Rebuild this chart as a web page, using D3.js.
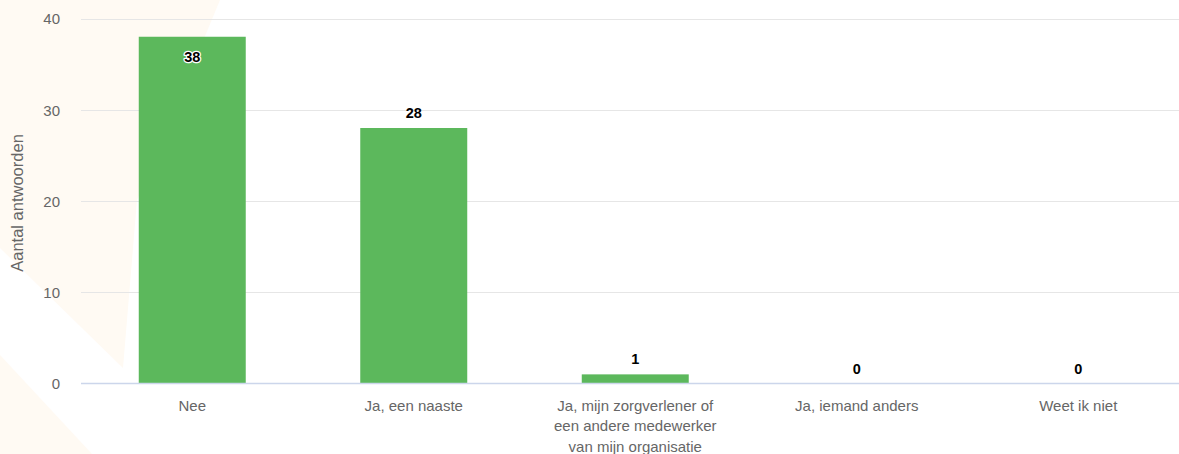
<!DOCTYPE html>
<html>
<head>
<meta charset="utf-8">
<script src="https://cdn.jsdelivr.net/npm/d3@7"></script>
<style>
  html, body { margin: 0; padding: 0; background: #ffffff; }
  svg { display: block; font-family: "Liberation Sans", Arial, sans-serif; }
</style>
</head>
<body>
<svg id="chart" width="1179" height="454"></svg>
<script>
const categories = ["Nee", "Ja, een naaste", "Ja, mijn zorgverlener of een andere medewerker van mijn organisatie", "Ja, iemand anders", "Weet ik niet"];
const values = [38, 28, 1, 0, 0];
const yTicks = [0, 10, 20, 30, 40];
const yTitle = "Aantal antwoorden";

const W = 1179, H = 454;
const plot = { left: 81.5, right: 1189, top: 18.5, bottom: 383.5 };
const svg = d3.select("#chart");

// faint background watermark shapes
const bg = svg.append("g");
bg.append("path").attr("d", "M0,0 L220,0 L137,200 L123,368 L0,248 Z").attr("fill", "#fffaf3");
bg.append("path").attr("d", "M0,355 L92,454 L0,454 Z").attr("fill", "#fffaf3");

const x = d3.scaleBand().domain(categories).range([plot.left, plot.right]).padding(0);
const y = d3.scaleLinear().domain([0, 40]).range([plot.bottom, plot.top]);
const barW = x.bandwidth() * 0.483;

// gridlines
svg.append("g").selectAll("line").data(yTicks.filter(d => d !== 0)).join("line")
  .attr("x1", 81).attr("x2", W)
  .attr("y1", d => Math.round(y(d)) + 0.5).attr("y2", d => Math.round(y(d)) + 0.5)
  .attr("stroke", "#e6e6e6").attr("stroke-width", 1);

// y axis labels
const yAxis = d3.axisLeft(y).tickValues(yTicks).tickSize(0).tickPadding(0);
const yg = svg.append("g").attr("transform", "translate(60,0)").call(yAxis);
yg.select(".domain").remove();
yg.selectAll("text").attr("font-size", 15).attr("fill", "#666666")
  .attr("font-family", "Liberation Sans, Arial, sans-serif").attr("dy", "0.35em");

// y title
svg.append("text")
  .attr("transform", `translate(23,${(plot.top + plot.bottom) / 2 + 2}) rotate(-90)`)
  .attr("text-anchor", "middle").attr("font-size", 16.5).attr("fill", "#666666")
  .text(yTitle);

// bars
svg.append("g").selectAll("rect").data(values).join("rect")
  .attr("x", (d, i) => x(categories[i]) + (x.bandwidth() - barW) / 2)
  .attr("width", barW)
  .attr("y", d => y(d))
  .attr("height", d => y(0) - y(d))
  .attr("fill", "#5cb85c");

// x axis line
svg.append("line").attr("x1", 81).attr("x2", W)
  .attr("y1", plot.bottom).attr("y2", plot.bottom)
  .attr("stroke", "#ccd6eb").attr("stroke-width", 1.5);

// x labels
const xAxis = d3.axisBottom(x).tickSize(0).tickPadding(0);
const xg = svg.append("g").attr("transform", `translate(0,${plot.bottom})`).call(xAxis);
xg.select(".domain").remove();
xg.selectAll("text").attr("font-size", 15).attr("fill", "#666666")
  .attr("font-family", "Liberation Sans, Arial, sans-serif")
  .attr("y", 0).attr("dy", null)
  .each(function(d) {
    const t = d3.select(this);
    const words = d.split(" ");
    t.text(null);
    const maxW = 172;
    let lines = [], line = [];
    const probe = t.append("tspan");
    for (const w of words) {
      line.push(w);
      probe.text(line.join(" "));
      if (probe.node().getComputedTextLength() > maxW && line.length > 1) {
        line.pop(); lines.push(line.join(" ")); line = [w];
      }
    }
    lines.push(line.join(" "));
    probe.remove();
    lines.forEach((l, i) => {
      t.append("tspan").attr("x", 0).attr("y", 27 + i * 20.5).text(l);
    });
  });

// data labels
const inside = d => (y(d) - 17 < plot.top + 5);
svg.append("g").selectAll("text").data(values).join("text")
  .attr("x", (d, i) => x(categories[i]) + x.bandwidth() / 2)
  .attr("y", d => inside(d) ? y(d) + 25 : y(d) - 10)
  .attr("text-anchor", "middle").attr("font-size", 14.5).attr("font-weight", "bold")
  .attr("fill", "#000000")
  .attr("stroke", d => inside(d) ? "#ffffff" : "none")
  .attr("stroke-width", 2.5).attr("stroke-linejoin", "round")
  .attr("paint-order", "stroke")
  .text(d => d);
</script>
</body>
</html>
